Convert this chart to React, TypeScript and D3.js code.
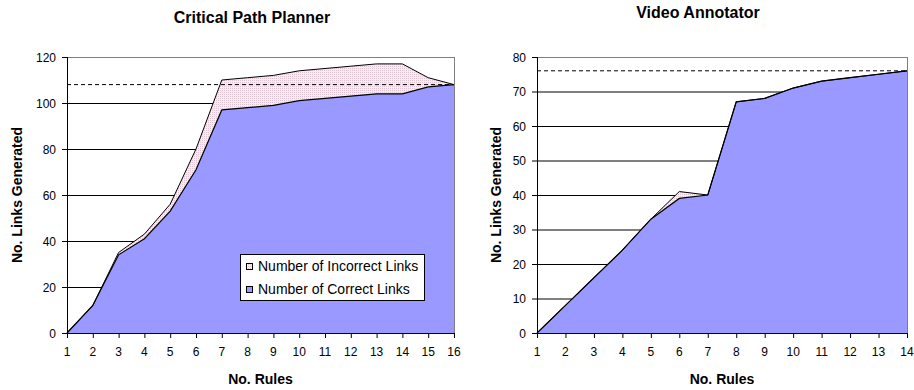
import React from "react";
import * as d3 from "d3";

const cppRules = [1, 2, 3, 4, 5, 6, 7, 8, 9, 10, 11, 12, 13, 14, 15, 16];
const cppCorrect = [0, 12, 34, 41, 53, 71, 97, 98, 99, 101, 102, 103, 104, 104, 107, 108];
const cppTotal = [0, 12, 35, 43, 56, 80, 110, 111, 112, 114, 115, 116, 117, 117, 111, 108];
const cppTicks = [0, 20, 40, 60, 80, 100, 120];
const cppRef = 108;

const vaRules = [1, 2, 3, 4, 5, 6, 7, 8, 9, 10, 11, 12, 13, 14];
const vaCorrect = [0, 8, 16, 24, 33, 39, 40, 67, 68, 71, 73, 74, 75, 76];
const vaTotal = [0, 8, 16, 24, 33, 41, 40, 67, 68, 71, 73, 74, 75, 76];
const vaTicks = [0, 10, 20, 30, 40, 50, 60, 70, 80];
const vaRef = 76;

const legendLabels = ["Number of Incorrect Links", "Number of Correct Links"];

const BLUE = "#9999FF";
const FONT = "Arial, 'Liberation Sans', sans-serif";

type PanelProps = {
  title: string;
  titleX: number;
  titleY: number;
  rules: number[];
  correct: number[];
  total: number[];
  ticks: number[];
  refVal: number;
  x0: number;
  x1: number;
  yTitleX: number;
  legend?: boolean;
};

function Panel(p: PanelProps) {
  const top = 57;
  const bottom = 333;
  const x = d3.scaleLinear().domain([p.rules[0], p.rules[p.rules.length - 1]]).range([p.x0, p.x1]);
  const y = d3.scaleLinear().domain([0, p.ticks[p.ticks.length - 1]]).range([bottom, top]);
  const idx = p.rules.map((_, i) => i);
  const areaTotal = d3.area<number>().x((i) => x(p.rules[i])).y0(y(0)).y1((i) => y(p.total[i]))(idx) || "";
  const areaCorrect = d3.area<number>().x((i) => x(p.rules[i])).y0(y(0)).y1((i) => y(p.correct[i]))(idx) || "";
  const lineTotal = d3.line<number>().x((i) => x(p.rules[i])).y((i) => y(p.total[i]))(idx) || "";
  const lineCorrect = d3.line<number>().x((i) => x(p.rules[i])).y((i) => y(p.correct[i]))(idx) || "";
  const midY = (top + bottom) / 2;
  return (
    <g>
      <text x={p.titleX} y={p.titleY} textAnchor="middle" fontFamily={FONT} fontWeight="bold" fontSize={16}>
        {p.title}
      </text>
      {p.ticks.slice(1).map((t) => (
        <line key={t} x1={p.x0} x2={p.x1} y1={y(t) + 0.5} y2={y(t) + 0.5} stroke="#000" strokeWidth={1} />
      ))}
      <rect x={p.x0 + 0.5} y={top + 0.5} width={p.x1 - p.x0} height={bottom - top} fill="none" stroke="#808080" />
      <path d={areaTotal} fill="url(#dots)" />
      <path d={areaCorrect} fill={BLUE} />
      <path d={lineTotal} fill="none" stroke="#000" strokeWidth={1} />
      <path d={lineCorrect} fill="none" stroke="#000" strokeWidth={1.2} />
      <line x1={p.x0} x2={p.x1} y1={y(p.refVal)} y2={y(p.refVal)} stroke="#000" strokeDasharray="4,3" />
      <line x1={p.x0 + 0.5} x2={p.x0 + 0.5} y1={top} y2={bottom + 0.5} stroke="#000" />
      <line x1={p.x0} x2={p.x1 + 1} y1={bottom + 0.5} y2={bottom + 0.5} stroke="#000" />
      {p.ticks.map((t) => (
        <g key={t}>
          <line x1={p.x0 - 5} x2={p.x0} y1={y(t) + 0.5} y2={y(t) + 0.5} stroke="#000" />
          <text x={p.x0 - 11} y={y(t) + 4.5} textAnchor="end" fontFamily={FONT} fontSize={12}>
            {t}
          </text>
        </g>
      ))}
      {p.rules.map((r) => (
        <g key={r}>
          <line x1={x(r) + 0.5} x2={x(r) + 0.5} y1={bottom} y2={bottom + 5} stroke="#000" />
          <text x={x(r)} y={356} textAnchor="middle" fontFamily={FONT} fontSize={12}>
            {r}
          </text>
        </g>
      ))}
      <text x={(p.x0 + p.x1) / 2} y={384} textAnchor="middle" fontFamily={FONT} fontWeight="bold" fontSize={14}>
        No. Rules
      </text>
      <text
        transform={`translate(${p.yTitleX},${midY}) rotate(-90)`}
        textAnchor="middle"
        fontFamily={FONT}
        fontWeight="bold"
        fontSize={14}
      >
        No. Links Generated
      </text>
      {p.legend && (
        <g>
          <rect x={240.5} y={254.5} width={184} height={46} fill="#fff" stroke="#000" />
          {legendLabels.map((l, i) => (
            <g key={l}>
              <rect x={246.5} y={263.5 + i * 23} width={6} height={6} fill={i === 0 ? "url(#dots)" : BLUE} stroke="#000" />
              <text x={258} y={271 + i * 23} fontFamily={FONT} fontSize={14}>
                {l}
              </text>
            </g>
          ))}
        </g>
      )}
    </g>
  );
}

export default function App() {
  return (
    <svg width={914} height={390} style={{ position: "absolute", left: 0, top: 0, background: "#fff" }}>
      <defs>
        <pattern id="dots" width={2} height={2} patternUnits="userSpaceOnUse">
          <rect width={2} height={2} fill="#F7ECF1" />
          <rect width={1} height={1} fill="#DCC4D0" />
        </pattern>
      </defs>
      <rect width={914} height={390} fill="#fff" />
      <Panel
        title="Critical Path Planner"
        titleX={252}
        titleY={23}
        rules={cppRules}
        correct={cppCorrect}
        total={cppTotal}
        ticks={cppTicks}
        refVal={cppRef}
        x0={67}
        x1={454}
        yTitleX={22}
        legend
      />
      <Panel
        title="Video Annotator"
        titleX={698}
        titleY={18}
        rules={vaRules}
        correct={vaCorrect}
        total={vaTotal}
        ticks={vaTicks}
        refVal={vaRef}
        x0={537}
        x1={907}
        yTitleX={501}
      />
    </svg>
  );
}
